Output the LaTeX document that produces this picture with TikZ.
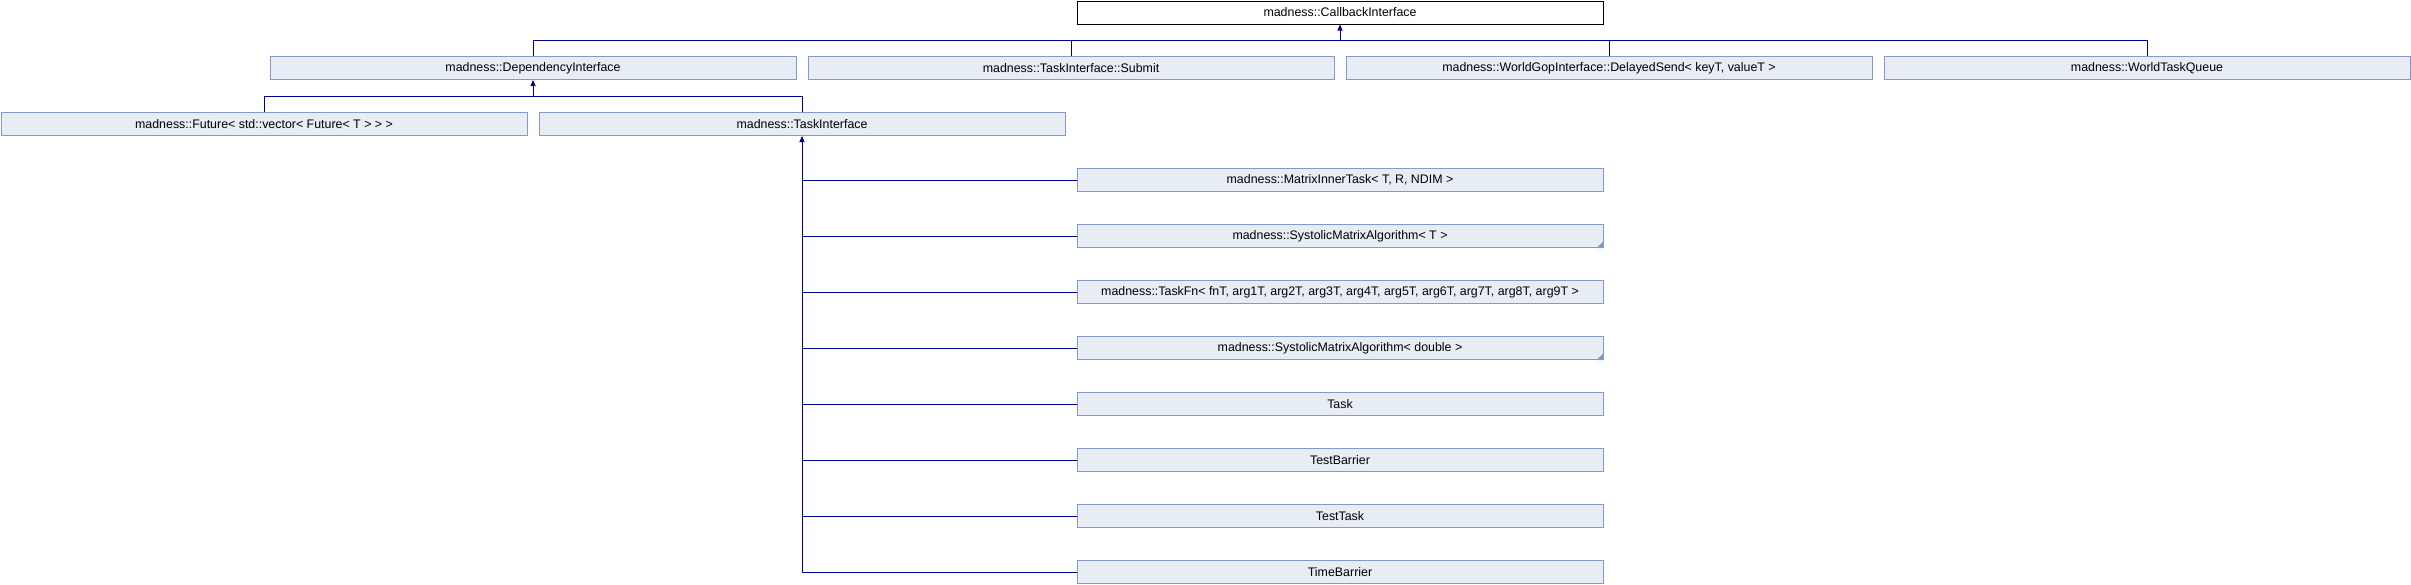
\documentclass[tikz,border=0pt]{standalone}
\usepackage{fontspec}
\setmainfont{Liberation Sans}
\usetikzlibrary{arrows.meta}
\definecolor{boxfill}{RGB}{232,236,245}
\definecolor{boxline}{RGB}{132,154,204}
\definecolor{conncol}{RGB}{0,0,140}
\tikzset{
  cls/.style={draw=boxline, fill=boxfill, line width=1pt, minimum width=526pt, minimum height=23pt,
    inner sep=0pt, anchor=north west, font=\fontsize{12.4}{14}\selectfont},
  topcls/.style={cls, draw=black, fill=white},
  conn/.style={draw=conncol, line width=1pt},
  inh/.style={conn, {Triangle[length=6pt,width=5pt]}-},
  more/.style={fill=boxline, draw=none}
}
\begin{document}
\begin{tikzpicture}[x=1pt,y=-1pt]
\useasboundingbox (0,0) rectangle (2411,584);
% row 1
\node[topcls] (cb) at (1076.5,0.5) {madness::CallbackInterface};
% row 2
\node[cls] (di)  at (269.5,56) {madness::DependencyInterface};
\node[cls] (sub) at (807.5,56) {madness::TaskInterface::Submit};
\node[cls] (ds)  at (1345.5,56) {madness::WorldGopInterface::DelayedSend< keyT, valueT >};
\node[cls] (wtq) at (1883.5,56) {madness::WorldTaskQueue};
% row 3
\node[cls] (fut) at (0.5,112) {madness::Future< std::vector< Future< T > > >};
\node[cls] (ti)  at (538.5,112) {madness::TaskInterface};
% children of TaskInterface
\node[cls] (c1) at (1076.5,168) {madness::MatrixInnerTask< T, R, NDIM >};
\node[cls] (c2) at (1076.5,224) {madness::SystolicMatrixAlgorithm< T >};
\node[cls] (c3) at (1076.5,280) {madness::TaskFn< fnT, arg1T, arg2T, arg3T, arg4T, arg5T, arg6T, arg7T, arg8T, arg9T >};
\node[cls] (c4) at (1076.5,336) {madness::SystolicMatrixAlgorithm< double >};
\node[cls] (c5) at (1076.5,392) {Task};
\node[cls] (c6) at (1076.5,448) {TestBarrier};
\node[cls] (c7) at (1076.5,504) {TestTask};
\node[cls] (c8) at (1076.5,560) {TimeBarrier};
% "more" corner marks
\fill[more] (c2.south east) -- ++(-7,0) -- ++(7,-7) -- cycle;
\fill[more] (c4.south east) -- ++(-7,0) -- ++(7,-7) -- cycle;
% connectors: CallbackInterface
\coordinate (b1) at (0,40);
\draw[inh] (cb.south) -- (cb.south |- b1);
\draw[conn] (di.north) -- (di.north |- b1) -- (wtq.north |- b1) -- (wtq.north);
\draw[conn] (sub.north) -- (sub.north |- b1);
\draw[conn] (ds.north) -- (ds.north |- b1);
% connectors: DependencyInterface
\coordinate (b2) at (0,96);
\draw[inh] (di.south) -- (di.south |- b2);
\draw[conn] (fut.north) -- (fut.north |- b2) -- (ti.north |- b2) -- (ti.north);
% connectors: TaskInterface
\draw[inh] (ti.south) -- (ti.south |- c8.west);
\foreach \c in {c1,c2,c3,c4,c5,c6,c7,c8}{
  \draw[conn] (ti.south |- \c.west) -- (\c.west);
}
\end{tikzpicture}
\end{document}
